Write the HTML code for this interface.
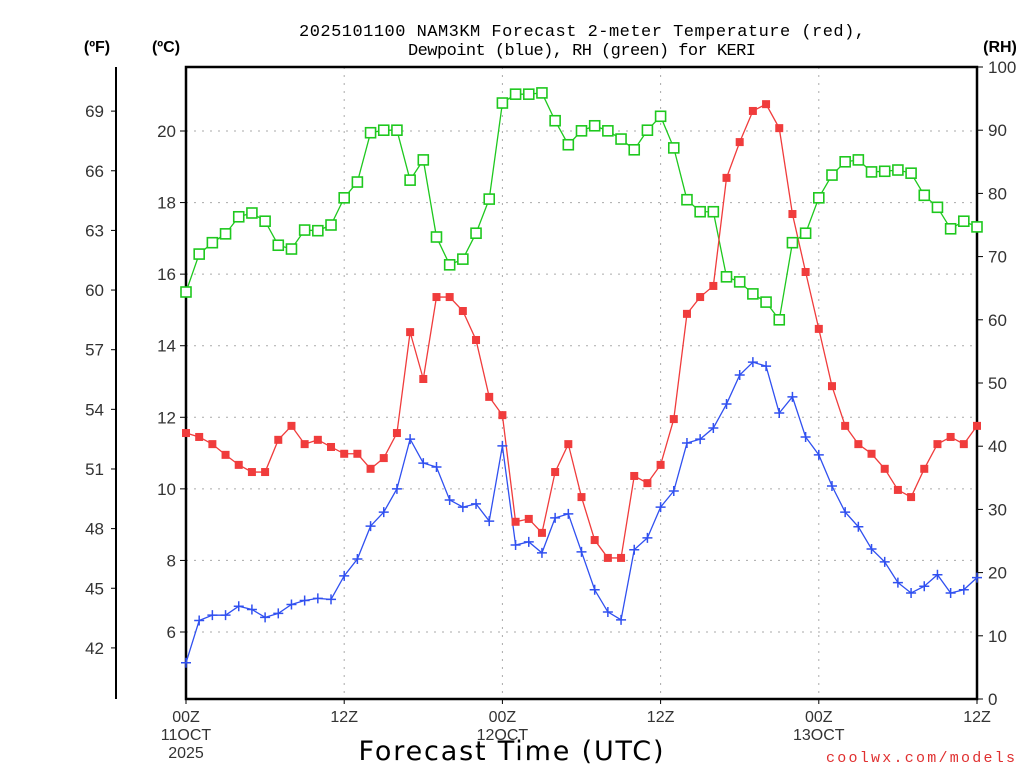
<!DOCTYPE html>
<html><head><meta charset="utf-8"><style>
html,body{margin:0;padding:0;background:#fff}
svg{display:block}
</style></head><body>
<svg id="chart" width="1024" height="768" xmlns="http://www.w3.org/2000/svg" font-family="Liberation Sans, sans-serif">
<text x="582" y="36" text-anchor="middle" font-family="Liberation Mono, monospace" font-size="17" textLength="566" fill="#000">2025101100 NAM3KM Forecast 2-meter Temperature (red),</text>
<text x="582" y="55" text-anchor="middle" font-family="Liberation Mono, monospace" font-size="17" textLength="348" fill="#000">Dewpoint (blue), RH (green) for KERI</text>
<text x="97" y="52" text-anchor="middle" font-size="16" font-weight="bold">(ºF)</text>
<text x="166" y="52" text-anchor="middle" font-size="16" font-weight="bold">(ºC)</text>
<text x="1000" y="52" text-anchor="middle" font-size="16" font-weight="bold">(RH)</text>
<text x="511" y="760" text-anchor="middle" font-size="27" textLength="305" font-family="DejaVu Sans, sans-serif">Forecast Time (UTC)</text>
<text x="1015" y="762" text-anchor="end" font-size="15" textLength="189" fill="#e03030" font-family="Liberation Mono, monospace">coolwx.com/models</text>
<g id="grid"></g><g id="axes"></g><g id="series"></g>
</svg>
<script>
const hours = Array.from({length:61},(_,i)=>i);
const tempC = [11.56,11.45,11.25,10.95,10.67,10.47,10.47,11.37,11.76,11.25,11.37,11.17,10.98,10.98,10.56,10.86,11.56,14.38,13.07,15.36,15.36,14.97,14.16,12.57,12.06,9.08,9.16,8.77,10.47,11.25,9.77,8.57,8.07,8.07,10.36,10.16,10.67,11.95,14.89,15.36,15.67,18.69,19.69,20.56,20.75,20.08,17.68,16.06,14.47,12.87,11.76,11.25,10.98,10.56,9.97,9.77,10.56,11.25,11.45,11.25,11.76];
const dewC = [5.14,6.32,6.47,6.47,6.72,6.63,6.41,6.52,6.77,6.88,6.94,6.91,7.57,8.04,8.96,9.35,10.0,11.39,10.72,10.61,9.69,9.49,9.58,9.10,11.20,8.43,8.52,8.21,9.19,9.30,8.24,7.18,6.56,6.34,8.30,8.63,9.49,9.94,11.28,11.39,11.70,12.37,13.18,13.54,13.43,12.12,12.57,11.45,10.95,10.08,9.35,8.94,8.32,7.96,7.38,7.09,7.28,7.60,7.09,7.18,7.52];
const rh = [64.4,70.4,72.2,73.6,76.3,76.9,75.6,71.8,71.2,74.2,74.1,75.0,79.3,81.8,89.6,90.0,90.0,82.1,85.3,73.1,68.7,69.6,73.7,79.1,94.3,95.7,95.7,95.9,91.5,87.7,89.9,90.7,89.9,88.6,86.9,90.0,92.2,87.2,79.0,77.1,77.1,66.8,66.0,64.1,62.8,60.0,72.2,73.7,79.3,82.9,85.0,85.3,83.4,83.5,83.7,83.2,79.7,77.8,74.4,75.6,74.7];
const cTicks = [6,8,10,12,14,16,18,20];
const fTicks = [42,45,48,51,54,57,60,63,66,69];
const rhTicks = [0,10,20,30,40,50,60,70,80,90,100];
const xTickHours = [0,12,24,36,48,60];
const xTickLabels = [["00Z","11OCT","2025"],["12Z"],["00Z","12OCT"],["12Z"],["00Z","13OCT"],["12Z"]];

const L=186,R=977,T=67,B=699;
const xs=h=>L+(h/60)*(R-L);
const yc=c=>131+(20-c)*(501/14);
const yf=f=>yc((f-32)*5/9);
const yr=r=>B-(r/100)*(B-T);
const NS="http://www.w3.org/2000/svg";
function mk(tag,attrs,parent){const e=document.createElementNS(NS,tag);for(const k in attrs)e.setAttribute(k,attrs[k]);parent.appendChild(e);return e;}
const grid=document.getElementById('grid'),axes=document.getElementById('axes'),ser=document.getElementById('series');

cTicks.forEach(c=>{
  const g=mk('line',{x1:L,x2:R,y1:yc(c),y2:yc(c),stroke:'#aaa','stroke-dasharray':'2,6'},grid);
  
  
  const t=mk('line',{x1:L-6,x2:L,y1:yc(c),y2:yc(c),stroke:'#000'},axes);
  
  
  const l=mk('text',{x:L-10,y:yc(c)+6,'text-anchor':'end','font-size':'17',fill:'#333'},axes);
  l.textContent=c;
  
  
});
xTickHours.forEach((h,i)=>{
  if(h>0&&h<60){const g=mk('line',{x1:xs(h),x2:xs(h),y1:T,y2:B,stroke:'#aaa','stroke-dasharray':'2,6'},grid);
  
  }
  const t=mk('line',{x1:xs(h),x2:xs(h),y1:B,y2:B+5,stroke:'#000'},axes);
  
  
  xTickLabels[i].forEach((s,j)=>{
    const l=mk('text',{x:xs(h),y:B+23+j*18,'text-anchor':'middle','font-size':'16',fill:'#333'},axes);
    l.textContent=s;
    
    
  });
});
fTicks.forEach(f=>{
  const t=mk('line',{x1:111,x2:116,y1:yf(f),y2:yf(f),stroke:'#000'},axes);
  
  
  const l=mk('text',{x:104,y:yf(f)+6,'text-anchor':'end','font-size':'17',fill:'#333'},axes);
  l.textContent=f;
  
  
});
rhTicks.forEach(r=>{
  const t=mk('line',{x1:R,x2:R+6,y1:yr(r),y2:yr(r),stroke:'#000'},axes);
  
  
  const l=mk('text',{x:R+11,y:yr(r)+6,'font-size':'17',fill:'#333'},axes);
  l.textContent=r;
  
  
});
const fa=mk('line',{x1:116,x2:116,y1:T,y2:B,stroke:'#000','stroke-width':2},axes);


const box=mk('rect',{x:L,y:T,width:R-L,height:B-T,fill:'none',stroke:'#000','stroke-width':2.5},axes);



function line(vals,yfn,color,name){
  const p=mk('polyline',{points:vals.map((v,i)=>xs(hours[i])+','+yfn(v)).join(' '),fill:'none',stroke:color,'stroke-width':1.3},ser);
  
  
}
line(rh,yr,'#1ec81e','rh-line');
line(tempC,yc,'#f03c3c','temperature-line');
line(dewC,yc,'#3050f0','dewpoint-line');
rh.forEach((v,i)=>{
  const m=mk('rect',{x:xs(hours[i])-5,y:yr(v)-5,width:10,height:10,fill:'#fff',stroke:'#1ec81e','stroke-width':1.6},ser);
  
  
});
tempC.forEach((v,i)=>{
  const m=mk('rect',{x:xs(hours[i])-4,y:yc(v)-4,width:8,height:8,fill:'#f03c3c'},ser);
  
  
});
dewC.forEach((v,i)=>{
  const x=xs(hours[i]),y=yc(v);
  const m=mk('path',{d:`M${x-5},${y}H${x+5}M${x},${y-5}V${y+5}`,stroke:'#3050f0','stroke-width':1.5},ser);
  
  
});
</script>
</body></html>
